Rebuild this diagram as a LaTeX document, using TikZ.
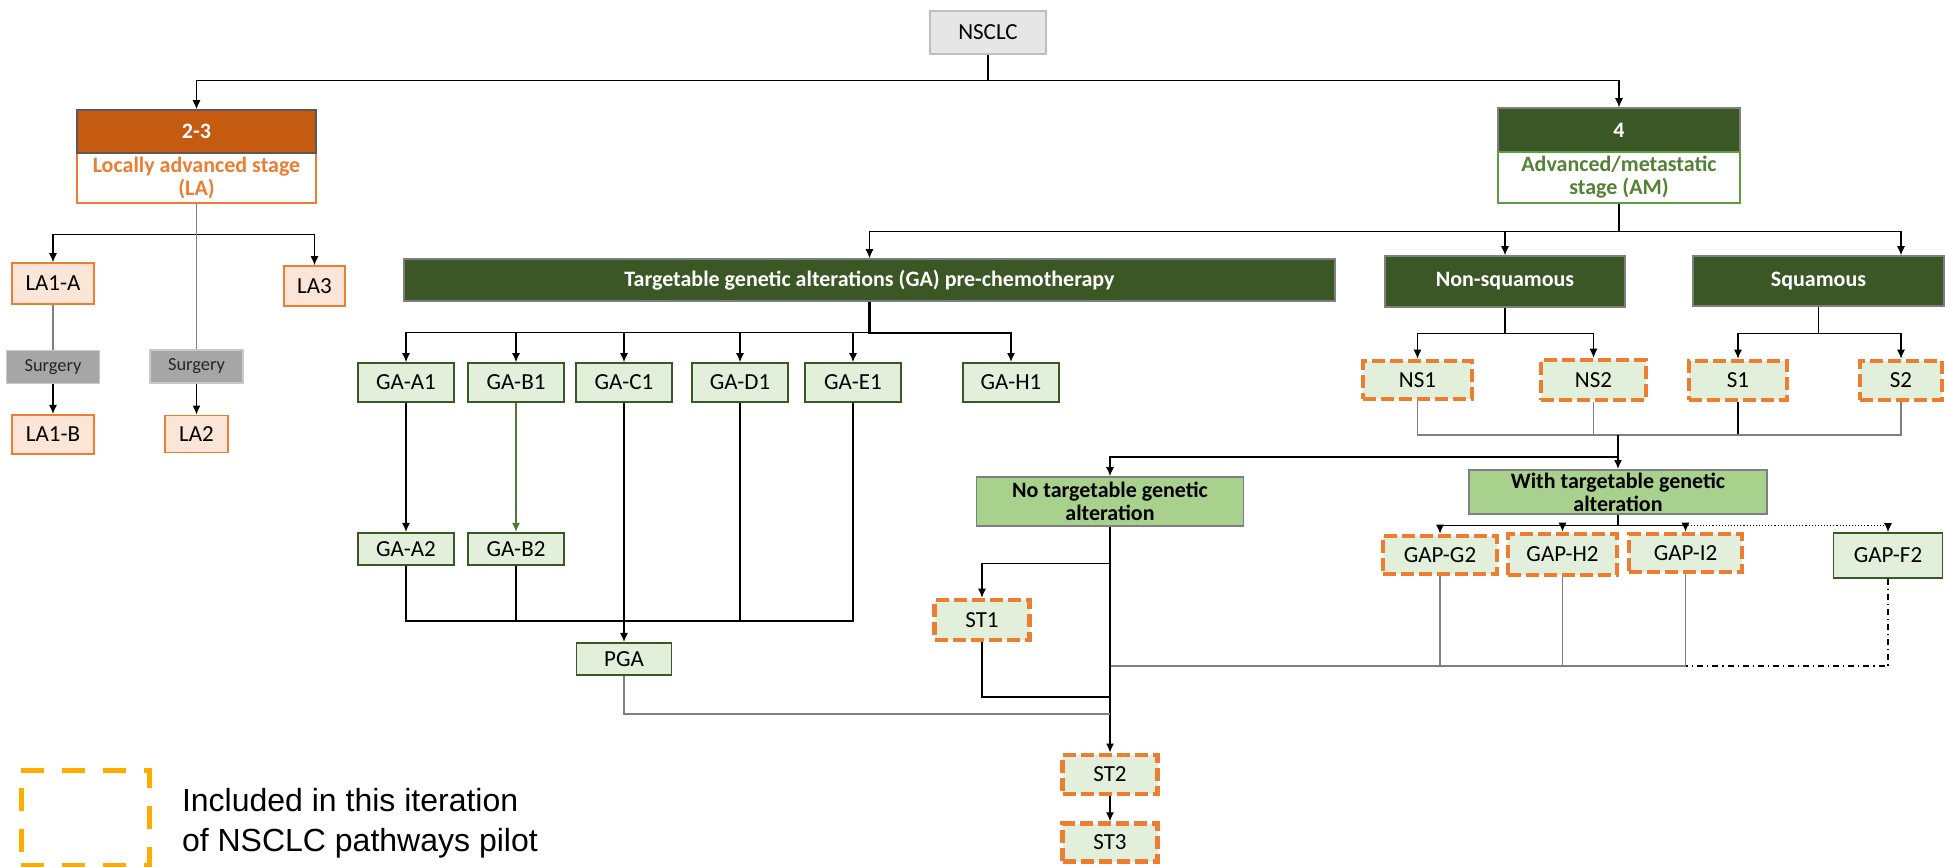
\documentclass[tikz,border=0pt]{standalone}
\usepackage{fontspec}
\setmainfont{Carlito}
\newfontfamily\legendfont{Liberation Sans}
\usepackage{tikz}
\usetikzlibrary{arrows.meta,positioning}

\definecolor{nsclcgrey}{HTML}{E7E6E6}
\definecolor{nsclcline}{HTML}{BFBFBF}
\definecolor{laheader}{HTML}{C55A11}
\definecolor{laorange}{HTML}{ED7D31}
\definecolor{lapeach}{HTML}{FBE5D6}
\definecolor{darkgreen}{HTML}{3B5726}
\definecolor{amline}{HTML}{5E9E3E}
\definecolor{amtext}{HTML}{548235}
\definecolor{palegreen}{HTML}{E2EFDA}
\definecolor{midgreen}{HTML}{A9D18E}
\definecolor{boxline}{HTML}{7F7F7F}
\definecolor{darkline}{HTML}{595959}
\definecolor{surggrey}{HTML}{A6A6A6}
\definecolor{surgline}{HTML}{C9C9C9}
\definecolor{textgrey}{HTML}{262626}
\definecolor{linkgrey}{HTML}{808080}
\definecolor{gabgreen}{HTML}{4F7A36}
\definecolor{legendamber}{HTML}{FFAB00}

\begin{document}
\begin{tikzpicture}[x=0.5pt, y=-0.5pt, >={Latex[length=4.5pt,width=4pt]}, inner sep=0pt, line width=0.55pt, font=\fontsize{11.5}{11.5}\selectfont]
	\tikzstyle{headbox}=[draw=boxline, fill=darkgreen, text=white, font=\bfseries\fontsize{11}{11.5}\selectfont, align=center, line width=0.8pt]
	\tikzstyle{stagebox}=[fill=white, font=\bfseries\fontsize{11}{11.5}\selectfont, align=center, line width=0.8pt]
	\tikzstyle{labox}=[draw=laorange, fill=lapeach, line width=0.8pt]
	\tikzstyle{surgery}=[draw=surgline, fill=surggrey, text=textgrey, font=\fontsize{9.2}{10}\selectfont, minimum width=46.5pt, minimum height=16.5pt]
	\tikzstyle{gabox}=[draw=darkgreen, fill=palegreen, line width=0.9pt, minimum width=48pt, minimum height=19.5pt]
	\tikzstyle{pilot}=[draw=laorange, fill=palegreen, line width=2.3pt, dash pattern=on 6.5pt off 2.5pt]
	\tikzstyle{branch}=[draw=boxline, fill=midgreen, font=\bfseries\fontsize{11}{11.5}\selectfont, align=center, line width=0.9pt]
	\tikzstyle{soft}=[draw=linkgrey]

	\useasboundingbox (0,0) rectangle (1945,867);

	% root and stages
	\node[draw=nsclcline, fill=nsclcgrey, line width=0.8pt, minimum width=58pt, minimum height=21.5pt] (nsclc) at (988,32.5) {NSCLC};
	\node[stagebox, draw=laorange, text=laorange, minimum width=119.5pt, minimum height=25pt] (lastage) at (196.5,178) {Locally advanced stage\\(LA)};
	\node[headbox, fill=laheader, draw=darkline, minimum width=119.5pt, minimum height=21.5pt] (la23) at (196.5,131.5) {2-3};
	\node[headbox, minimum width=121pt, minimum height=22pt] (am4) at (1619,130) {4};
	\node[stagebox, draw=amline, text=amtext, minimum width=121pt, minimum height=25.5pt] (amstage) at (1619,177.5) {Advanced/metastatic\\stage (AM)};

	% locally advanced
	\node[labox, minimum width=41pt, minimum height=20.5pt] (la1a) at (53,283.5) {LA1-A};
	\node[labox, minimum width=30.5pt, minimum height=20pt] (la3) at (314.5,286) {LA3};
	\node[surgery, below=22.5pt of la1a] (surg1) {Surgery};
	\node[labox, minimum width=41pt, minimum height=19.5pt, below=15pt of surg1] (la1b) {LA1-B};
	\node[surgery] (surg2) at (196.5,366.5) {Surgery};
	\node[labox, minimum width=31.5pt, minimum height=18.5pt, below=15.5pt of surg2] (la2) {LA2};

	% advanced / metastatic
	\node[headbox, minimum width=465.5pt, minimum height=21pt] (ga) at (869.5,280) {Targetable genetic alterations (GA) pre-chemotherapy};
	\node[headbox, minimum width=120pt, minimum height=25.5pt] (nonsq) at (1505,281.5) {Non-squamous};
	\node[headbox, minimum width=125.5pt, minimum height=25pt] (squam) at (1818.5,281) {Squamous};

	\node[gabox] (gaa1) at (406,382.5) {GA-A1};
	\node[gabox] (gab1) at (516,382.5) {GA-B1};
	\node[gabox] (gac1) at (624,382.5) {GA-C1};
	\node[gabox] (gad1) at (740,382.5) {GA-D1};
	\node[gabox] (gae1) at (853,382.5) {GA-E1};
	\node[gabox] (gah1) at (1011,382.5) {GA-H1};
	\node[gabox, minimum height=16pt, below=64.5pt of gaa1] (gaa2) {GA-A2};
	\node[gabox, minimum height=16pt, below=64.5pt of gab1] (gab2) {GA-B2};
	\node[gabox, minimum width=47.5pt, minimum height=16pt, below=119.5pt of gac1] (pga) {PGA};

	\node[pilot, minimum width=54.5pt, minimum height=19pt] (ns1) at (1417.5,380) {NS1};
	\node[pilot, minimum width=52.5pt, minimum height=20pt] (ns2) at (1593.5,380) {NS2};
	\node[pilot, minimum width=49pt, minimum height=19.5pt] (s1) at (1738,380.5) {S1};
	\node[pilot, minimum width=41pt, minimum height=19.5pt] (s2) at (1901,380.5) {S2};

	\node[branch, minimum width=133.5pt, minimum height=24.5pt] (notarget) at (1110,501.5) {No targetable genetic\\alteration};
	\node[branch, minimum width=149pt, minimum height=22pt] (withtarget) at (1618,492) {With targetable genetic\\alteration};

	\node[pilot, minimum width=57pt, minimum height=19pt] (gapg2) at (1440,555) {GAP-G2};
	\node[pilot, minimum width=54.5pt, minimum height=20.5pt] (gaph2) at (1562.5,554.5) {GAP-H2};
	\node[pilot, minimum width=56.5pt, minimum height=19pt] (gapi2) at (1685.5,553) {GAP-I2};
	\node[gabox, minimum width=54.5pt, minimum height=22.5pt] (gapf2) at (1888,555.5) {GAP-F2};

	\node[pilot, minimum width=47.5pt, minimum height=20pt] (st1) at (982,620) {ST1};
	\node[pilot, minimum width=47.5pt, minimum height=19.5pt] (st2) at (1110,774.5) {ST2};
	\node[pilot, minimum width=47.5pt, minimum height=19pt, below=12.5pt of st2] (st3) {ST3};

	% legend
	\node[draw=legendamber, line width=2.5pt, dash pattern=on 11.5pt off 9pt, minimum width=64pt, minimum height=47.5pt] (legendkey) at (85,817.5) {};
	\node[right=15pt of legendkey, yshift=-3pt, align=left, font=\legendfont\fontsize{16}{20}\selectfont] (legendtext) {Included in this iteration\\of NSCLC pathways pilot};

	% connectors
	\draw[->] (nsclc.south) -- ++(0,26) -| (la23.north);
	\draw[->] (nsclc.south) -- ++(0,26) -| (am4.north);

	\draw[->] (lastage.south) -- ++(0,31) -| (la1a.north);
	\draw[->] (lastage.south) -- ++(0,31) -| (la3.north);
	\draw[soft] (lastage.south) -- (surg2.north);
	\draw[soft] (la1a) -- (surg1);
	\draw[->] (surg1) -- (la1b);
	\draw[->] (surg2) -- (la2);

	\draw[->] (amstage.south) -- ++(0,28) -| (ga.north);
	\draw[->] (amstage.south) -- ++(0,28) -| (nonsq.north);
	\draw[->] (amstage.south) -- ++(0,28) -| (squam.north -| s2);

	\draw[->] (ga.south) -- ++(0,31) -| (gaa1.north);
	\draw[->] (ga.south) -- ++(0,31) -| (gab1.north);
	\draw[->] (ga.south) -- ++(0,31) -| (gac1.north);
	\draw[->] (ga.south) -- ++(0,31) -| (gad1.north);
	\draw[->] (ga.south) -- ++(0,31) -| (gae1.north);
	\draw[->, line width=1.3pt] (ga.south) -- ++(0,31) -| (gah1.north);

	\draw[->] (gaa1) -- (gaa2);
	\draw[->, draw=gabgreen] (gab1) -- (gab2);
	\draw[->] (gac1) -- (pga);
	\coordinate (gamerge) at (624,621);
	\draw (gaa2.south) |- (gamerge);
	\draw (gab2.south) -- (gab2.south |- gamerge);
	\draw (gad1.south) -- (gad1.south |- gamerge);
	\draw (gae1.south) |- (gamerge);

	\draw[->] (nonsq.south) -- ++(0,26) -| (ns1.north);
	\draw[->] (nonsq.south) -- ++(0,26) -| (ns2.north);
	\draw[->] (squam.south) -- ++(0,27) -| (s1.north);
	\draw[->] (squam.south) -- ++(0,27) -| (s2.north);
	\coordinate (nsjoin) at (1618,435);
	\draw[soft] (ns1.south) |- (nsjoin);
	\draw[soft] (ns2.south) |- (nsjoin);
	\draw (s1.south) |- (nsjoin);
	\draw[soft] (s2.south) |- (nsjoin);
	\draw[->, line width=1pt] (nsjoin) -- (withtarget.north);
	\draw[->] (nsjoin) -- ++(0,22) -| (notarget.north);

	\draw[->] (withtarget.south) -- ++(0,11) -| (gapg2.north);
	\draw[->] (withtarget.south) -- ++(0,11) -| (gaph2.north);
	\draw[->] (withtarget.south) -- ++(0,11) -| (gapi2.north);
	\draw[->, densely dotted] (withtarget.south) -- ++(0,11) -| (gapf2.north);
	\coordinate (gapjoin) at (1110,666);
	\draw[soft, line width=1.2pt] (gapg2.south) |- (gapjoin);
	\draw[soft] (gaph2.south) |- (gapjoin);
	\draw[soft] (gapi2.south) |- (gapjoin);
	\draw[dash dot] (gapf2.south) |- (gapi2.south |- gapjoin);

	\draw[->] (notarget.south) -- ++(0,37) -| (st1.north);
	\draw (notarget.south) -- (gapjoin);
	\draw[->, line width=1.3pt] (gapjoin) -- (st2.north);
	\coordinate (st1join) at (1110,697);
	\draw[line width=1pt] (st1.south) |- (st1join);
	\coordinate (pgajoin) at (1110,714);
	\draw[soft] (pga.south) |- (pgajoin);
	\draw[->] (st2) -- (st3);
\end{tikzpicture}
\end{document}
